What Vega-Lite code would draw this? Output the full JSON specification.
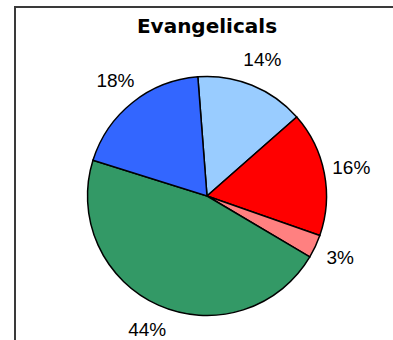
{
  "$schema": "https://vega.github.io/schema/vega-lite/v6.json",
  "autosize": "none",
  "padding": {"left": 15, "top": 7, "right": 0, "bottom": 0},
  "width": 384,
  "height": 378,
  "background": "white",
  "view": {"stroke": "#3a3a3a", "strokeWidth": 2, "fill": "white"},
  "title": {
    "text": "Evangelicals",
    "font": "DejaVu Sans",
    "fontSize": 20,
    "fontWeight": "bold",
    "color": "#000000",
    "anchor": "middle",
    "frame": "group",
    "offset": -30
  },
  "data": {
    "values": [
      {"segment": "Slice 1", "value": 14, "label": "14%", "order": 1},
      {"segment": "Slice 2", "value": 16, "label": "16%", "order": 2},
      {"segment": "Slice 3", "value": 3, "label": "3%", "order": 3},
      {"segment": "Slice 4", "value": 44, "label": "44%", "order": 4},
      {"segment": "Slice 5", "value": 18, "label": "18%", "order": 5}
    ]
  },
  "encoding": {
    "theta": {"field": "value", "type": "quantitative", "stack": true, "scale": {"range": [-0.0768, 6.2064]}},
    "order": {"field": "order", "type": "quantitative"}
  },
  "layer": [
    {
      "mark": {"type": "arc", "outerRadius": 119.5, "stroke": "#000000", "strokeWidth": 1.5},
      "encoding": {
        "color": {
          "field": "segment",
          "type": "nominal",
          "scale": {
            "domain": ["Slice 1", "Slice 2", "Slice 3", "Slice 4", "Slice 5"],
            "range": ["#99CCFF", "#FF0000", "#FF8080", "#339966", "#3366FF"]
          },
          "legend": null
        }
      }
    },
    {
      "mark": {"type": "text", "radius": 147, "font": "Liberation Sans", "fontSize": 19, "color": "#000000"},
      "encoding": {"text": {"field": "label", "type": "nominal"}}
    }
  ]
}
